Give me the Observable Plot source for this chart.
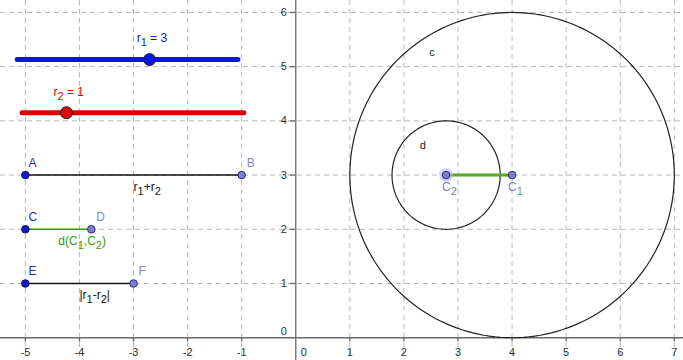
<!DOCTYPE html>
<html>
<head>
<meta charset="utf-8">
<script src="https://cdn.jsdelivr.net/npm/d3@7"></script>
<script src="https://cdn.jsdelivr.net/npm/@observablehq/plot@0.6"></script>
<style>
body { margin: 0; background: #fff; }
#chart svg { display: block; }
</style>
</head>
<body>
<div id="chart"></div>
<script>
// ---- data ----
const xTicks = [-5, -4, -3, -2, -1, 1, 2, 3, 4, 5, 6, 7];
const yTicks = [1, 2, 3, 4, 5, 6];
const gridX = [-5, -4, -3, -2, -1, 1, 2, 3, 4, 5, 6, 7];
const gridY = [1, 2, 3, 4, 5, 6];

// sliders r1, r2 (range 0..5)
const sliderLabels = ["r₁ = 3", "r₂ = 1"];
const sliderValues = [3, 1];
const sliderMin = [0, 0];
const sliderMax = [5, 5];
const sliderX0 = [-5.15, -5.06];
const sliderX1 = [-1.07, -0.96];
const sliderY = [5.13, 4.15];
const sliderColors = ["#0a14e6", "#e00000"];

// segments AB, CD, EF
const segNames = ["r₁+r₂", "d(C₁,C₂)", "|r₁-r₂|"];
const segStartNames = ["A", "C", "E"];
const segEndNames = ["B", "D", "F"];
const segX1 = [-5, -5, -5];
const segX2 = [-1, -3.78, -3];
const segY = [3, 2, 1];
const segColors = ["#111", "#3a9a10", "#111"];

// circles c and d
const circleNames = ["c", "d"];
const circleCX = [4, 2.78];
const circleCY = [3, 3];
const circleR = [3, 1];
const circleLabelX = [2.52, 2.35];
const circleLabelY = [5.26, 3.54];

// centers
const centerNames = ["C₁", "C₂"];
const centerX = [4, 2.78];
const centerY = [3, 3];

// ---- derived tables ----
const sliders = sliderLabels.map((l, i) => ({
  label: l, x0: sliderX0[i], x1: sliderX1[i], y: sliderY[i], color: sliderColors[i],
  px: sliderX0[i] + (sliderValues[i] - sliderMin[i]) / (sliderMax[i] - sliderMin[i]) * (sliderX1[i] - sliderX0[i])
}));
const segs = segNames.map((n, i) => ({
  name: n, s: segStartNames[i], e: segEndNames[i], x1: segX1[i], x2: segX2[i], y: segY[i], color: segColors[i],
  mx: (segX1[i] + segX2[i]) / 2
}));
const circlePts = [];
circleNames.forEach((n, i) => {
  for (let a = 0; a <= 360; a += 2) {
    const t = a * Math.PI / 180;
    circlePts.push({name: n, x: circleCX[i] + circleR[i] * Math.cos(t), y: circleCY[i] + circleR[i] * Math.sin(t)});
  }
});
const circleLabels = circleNames.map((n, i) => ({name: n, x: circleLabelX[i], y: circleLabelY[i]}));
const centers = centerNames.map((n, i) => ({name: n, x: centerX[i], y: centerY[i]}));

const font = "Liberation Sans, Arial, sans-serif";
const axisColor = "#6a6a6a";

const chart = Plot.plot({
  width: 683,
  height: 360,
  margin: 0,
  x: {domain: [-5.46, 7.17], axis: null},
  y: {domain: [-0.42, 6.22], axis: null},
  style: {fontFamily: font, fontSize: "12px", background: "#fff"},
  marks: [
    // grid
    Plot.ruleX(gridX, {stroke: "#b8b8b8", strokeDasharray: "5,4", strokeWidth: 1}),
    Plot.ruleY(gridY, {stroke: "#b8b8b8", strokeDasharray: "5,4", strokeWidth: 1}),
    // axes
    Plot.ruleX([0], {stroke: axisColor, strokeWidth: 1.3}),
    Plot.ruleY([0], {stroke: axisColor, strokeWidth: 1.3}),
    Plot.ruleX(xTicks, {y1: 0, y2: -0.08, stroke: axisColor, strokeWidth: 1.3}),
    Plot.ruleY(yTicks, {x1: 0, x2: -0.1, stroke: axisColor, strokeWidth: 1.3}),
    Plot.text(xTicks, {x: d => d, y: 0, dy: 15, text: d => String(d), fill: "#333", fontSize: 11}),
    Plot.text(yTicks, {x: 0, y: d => d, dx: -9, text: d => String(d), textAnchor: "end", fill: "#333", fontSize: 11}),
    Plot.text([0], {x: 0, y: 0, dx: 8, dy: 15, text: () => "0", fill: "#333", fontSize: 11}),
    Plot.text([0], {x: 0, y: 0, dx: -9, dy: -6, text: () => "0", textAnchor: "end", fill: "#333", fontSize: 11}),
    // circles
    Plot.line(circlePts, {x: "x", y: "y", z: "name", stroke: "#222", strokeWidth: 1.2, curve: "linear"}),
    Plot.text(circleLabels, {x: "x", y: "y", text: "name", fill: "#222", fontSize: 11}),
    // green segment between centers
    Plot.link([centers], {x1: d => d[1].x, x2: d => d[0].x, y1: d => d[1].y, y2: d => d[0].y, stroke: "#55aa22", strokeWidth: 3}),
    Plot.dot(centers.slice(1), {x: "x", y: "y", r: 7, fill: "#b8b8f0", fillOpacity: 0.6, stroke: "none"}),
    Plot.dot(centers, {x: "x", y: "y", r: 3.8, fill: "#7d7dd0", stroke: "#2b2b70", strokeWidth: 1}),
    Plot.text(centers, {x: "x", y: "y", text: "name", dx: -4, dy: 12, textAnchor: "start", fill: "#8080d0", fontSize: 12}),
    // sliders
    Plot.link(sliders, {x1: "x0", x2: "x1", y1: "y", y2: "y", stroke: "color", strokeWidth: 5, strokeLinecap: "round"}),
    Plot.dot(sliders, {x: "px", y: "y", r: 6, fill: "color", stroke: "#222", strokeWidth: 1}),
    Plot.text(sliders, {x: "px", y: "y", text: "label", dx: -13, dy: -21, textAnchor: "start", fill: "color", fontSize: 12}),
    // segments AB, CD, EF
    Plot.link(segs, {x1: "x1", x2: "x2", y1: "y", y2: "y", stroke: "color", strokeWidth: 1.5}),
    Plot.dot(segs, {x: "x1", y: "y", r: 3.8, fill: "#1818c8", stroke: "#101060", strokeWidth: 1}),
    Plot.dot(segs, {x: "x2", y: "y", r: 3.8, fill: "#7d7dd0", stroke: "#2b2b70", strokeWidth: 1}),
    Plot.text(segs, {x: "x1", y: "y", text: "s", dx: 3, dy: -12, textAnchor: "start", fill: "#2a2ab0", fontSize: 12}),
    Plot.text(segs, {x: "x2", y: "y", text: "e", dx: 5, dy: -12, textAnchor: "start", fill: "#8585d5", fontSize: 12}),
    Plot.text(segs, {x: "mx", y: "y", text: "name", dx: 0, dy: 12, textAnchor: "start", fill: "color", fontSize: 12})
  ]
});

// render Unicode subscript digits as lowered normal-size digits
const subMap = {"₀": "0", "₁": "1", "₂": "2", "₃": "3"};
const NS = "http://www.w3.org/2000/svg";
chart.querySelectorAll("text").forEach(t => {
  const txt = t.textContent;
  if (!/[₀-₃]/.test(txt)) return;
  while (t.firstChild) t.removeChild(t.firstChild);
  let lowered = false;
  for (const ch of txt) {
    const isSub = ch in subMap;
    const ts = document.createElementNS(NS, "tspan");
    ts.textContent = isSub ? subMap[ch] : ch;
    if (isSub && !lowered) { ts.setAttribute("dy", "4"); lowered = true; }
    else if (!isSub && lowered) { ts.setAttribute("dy", "-4"); lowered = false; }
    if (isSub) ts.setAttribute("font-size", "11");
    t.appendChild(ts);
  }
});
document.getElementById("chart").appendChild(chart);
</script>
</body>
</html>
